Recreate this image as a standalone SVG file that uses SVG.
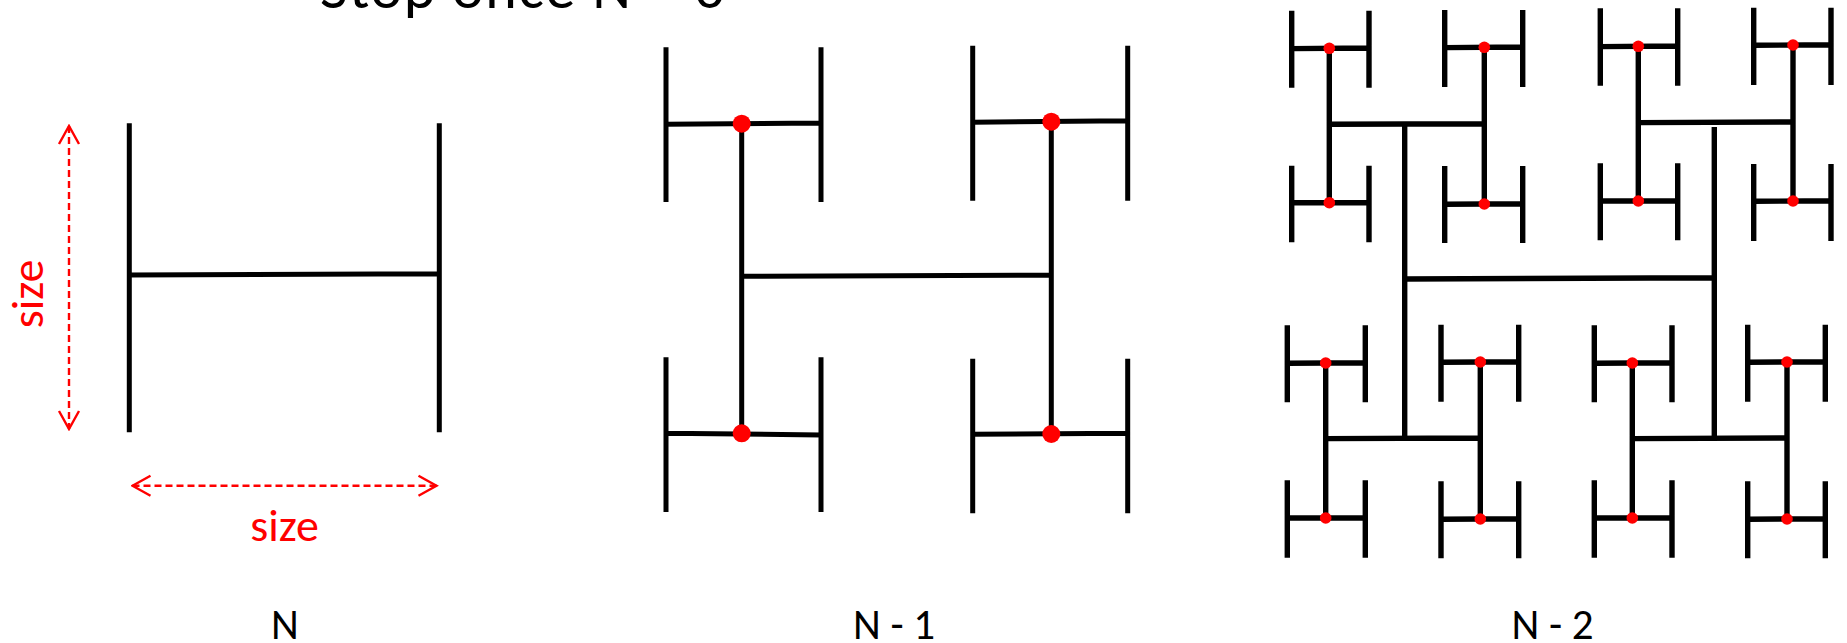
<svg xmlns="http://www.w3.org/2000/svg" width="1847" height="643" viewBox="0 0 1847 643">
<style>
.ln{stroke:#000;stroke-width:5;fill:none;stroke-linecap:butt}
.ln2{stroke:#000;stroke-width:5.4;fill:none;stroke-linecap:butt}
.dot{fill:#FF0000}
.dim{stroke:#FF0000;stroke-width:2.4;stroke-dasharray:7 4;fill:none}
.lbl{font-family:Carlito,Lato,"Liberation Sans",sans-serif;font-size:43px;fill:#000}
.red{font-family:Carlito,Lato,"Liberation Sans",sans-serif;font-size:46px;fill:#FF0000}
.title{font-family:Carlito,Lato,"Liberation Sans",sans-serif;font-size:60px;fill:#000}
</style>
<defs>
<marker id="chev" viewBox="-20 -12 22 24" refX="0" refY="0" markerWidth="22" markerHeight="24" markerUnits="userSpaceOnUse" orient="auto-start-reverse">
<path d="M-18,-10 L0,0 L-18,10" fill="none" stroke="#FF0000" stroke-width="2.4"/>
</marker>
</defs>
<rect width="1847" height="643" fill="#fff"/>
<text class="title" x="320" y="8" textLength="405" lengthAdjust="spacing">Stop once N = 0</text>

<g id="fig-n">
<path class="ln" d="M129.3,123.3V432.3 M439.3,123.3V432.3 M129.3,275L439.3,273.7"/>
</g>
<g id="dimensions">
<line class="dim" x1="69" y1="126" x2="69" y2="429" marker-start="url(#chev)" marker-end="url(#chev)"/>
<line class="dim" x1="132.5" y1="485.7" x2="436.5" y2="485.7" marker-start="url(#chev)" marker-end="url(#chev)"/>
<text class="red" x="284.5" y="541" text-anchor="middle">size</text>
<text class="red" transform="translate(42.7,294) rotate(-90)" text-anchor="middle">size</text>
</g>

<g id="fig-n1">
<g id="n1-connectors">
<path class="ln" d="M741.7,123.7V433.3 M1051.3,121.7V434 M741.7,276.3L1051.3,275"/>
</g>
<g id="n1-h-tl"><path class="ln" d="M666,47.3V202 M821,47.3V202 M666,124.3L821,123"/><circle class="dot" cx="741.7" cy="123.7" r="9"/></g>
<g id="n1-h-tr"><path class="ln" d="M972.7,45.7V200.7 M1127.7,45.7V200.7 M972.7,122.3L1127.7,120.7"/><circle class="dot" cx="1051.3" cy="121.7" r="9"/></g>
<g id="n1-h-bl"><path class="ln" d="M666,357.3V512 M821,357.3V512 M666,433.3L821,435"/><circle class="dot" cx="741.7" cy="433.3" r="9"/></g>
<g id="n1-h-br"><path class="ln" d="M972.7,358.7V513.3 M1127.7,358.7V513.3 M972.7,434.3L1127.7,433.3"/><circle class="dot" cx="1051.3" cy="434" r="9"/></g>
</g>

<g id="fig-n2">
<g id="n2-connectors">
<path class="ln2" d="M1404.7,124V438.3 M1714.3,127V438.3 M1404.7,279L1714.3,277.7"/>
<path class="ln2" d="M1329.3,48.3V202.7 M1484.3,47.3V204 M1329.3,124.3L1484.3,123.7"/>
<path class="ln2" d="M1638.3,46.3V201 M1793,45V201 M1638.3,122.6L1793,122"/>
<path class="ln2" d="M1325.7,363V518 M1480.3,362V519 M1325.7,438.6L1480.3,438"/>
<path class="ln2" d="M1632.3,363V518 M1787,362V519 M1632.3,438.6L1787,438"/>
</g>
<g id="n2-h1"><path class="ln2" d="M1291.7,10.7V87.7 M1369,10.7V87.7 M1291.7,48.6L1369,48"/><circle class="dot" cx="1329.3" cy="48.3" r="5.8"/></g>
<g id="n2-h2"><path class="ln2" d="M1444.7,10V87 M1522.7,10V87 M1444.7,47.6L1522.7,47"/><circle class="dot" cx="1484.3" cy="47.3" r="5.8"/></g>
<g id="n2-h3"><path class="ln2" d="M1600.3,8.3V85.7 M1677.7,8.3V85.7 M1600.3,46.6L1677.7,46"/><circle class="dot" cx="1638.3" cy="46.3" r="5.8"/></g>
<g id="n2-h4"><path class="ln2" d="M1753.7,7.7V85 M1831,7.7V85 M1753.7,45.3L1831,44.7"/><circle class="dot" cx="1793" cy="45" r="5.8"/></g>
<g id="n2-h5"><path class="ln2" d="M1291.7,165.7V242.3 M1369,165.7V242.3 M1291.7,202.7L1369,202.7"/><circle class="dot" cx="1329.3" cy="202.7" r="5.8"/></g>
<g id="n2-h6"><path class="ln2" d="M1444.7,166V243 M1522.7,166V243 M1444.7,204.3L1522.7,203.7"/><circle class="dot" cx="1484.3" cy="204" r="5.8"/></g>
<g id="n2-h7"><path class="ln2" d="M1600.3,163.3V240.3 M1677.7,163.3V240.3 M1600.3,201L1677.7,201"/><circle class="dot" cx="1638.3" cy="201" r="5.8"/></g>
<g id="n2-h8"><path class="ln2" d="M1753.7,164V241 M1831,164V241 M1753.7,201.3L1831,200.7"/><circle class="dot" cx="1793" cy="201" r="5.8"/></g>
<g id="n2-h9"><path class="ln2" d="M1287.3,325.3V402.3 M1365.3,325.3V402.3 M1287.3,363.3L1365.3,362.7"/><circle class="dot" cx="1325.7" cy="363" r="5.8"/></g>
<g id="n2-h10"><path class="ln2" d="M1441,324.7V401.7 M1518.7,324.7V401.7 M1441,362.3L1518.7,361.7"/><circle class="dot" cx="1480.3" cy="362" r="5.8"/></g>
<g id="n2-h11"><path class="ln2" d="M1594.3,325.3V402.3 M1672,325.3V402.3 M1594.3,363.3L1672,362.7"/><circle class="dot" cx="1632.3" cy="363" r="5.8"/></g>
<g id="n2-h12"><path class="ln2" d="M1747.7,324.7V401.7 M1825.3,324.7V401.7 M1747.7,362.3L1825.3,361.7"/><circle class="dot" cx="1787" cy="362" r="5.8"/></g>
<g id="n2-h13"><path class="ln2" d="M1287.3,480.3V557.7 M1365.3,480.3V557.7 M1287.3,518L1365.3,518"/><circle class="dot" cx="1325.7" cy="518" r="5.8"/></g>
<g id="n2-h14"><path class="ln2" d="M1441,481.3V558.3 M1518.7,481.3V558.3 M1441,519.3L1518.7,518.7"/><circle class="dot" cx="1480.3" cy="519" r="5.8"/></g>
<g id="n2-h15"><path class="ln2" d="M1594.3,480.3V557.7 M1672,480.3V557.7 M1594.3,518L1672,518"/><circle class="dot" cx="1632.3" cy="518" r="5.8"/></g>
<g id="n2-h16"><path class="ln2" d="M1747.7,481.3V558.3 M1825.3,481.3V558.3 M1747.7,519.3L1825.3,518.7"/><circle class="dot" cx="1787" cy="519" r="5.8"/></g>
</g>

<g id="labels">
<text class="lbl" x="285" y="639" text-anchor="middle">N</text>
<text class="lbl" x="894" y="639" text-anchor="middle">N - 1</text>
<text class="lbl" x="1552.5" y="639" text-anchor="middle">N - 2</text>
</g>
</svg>
